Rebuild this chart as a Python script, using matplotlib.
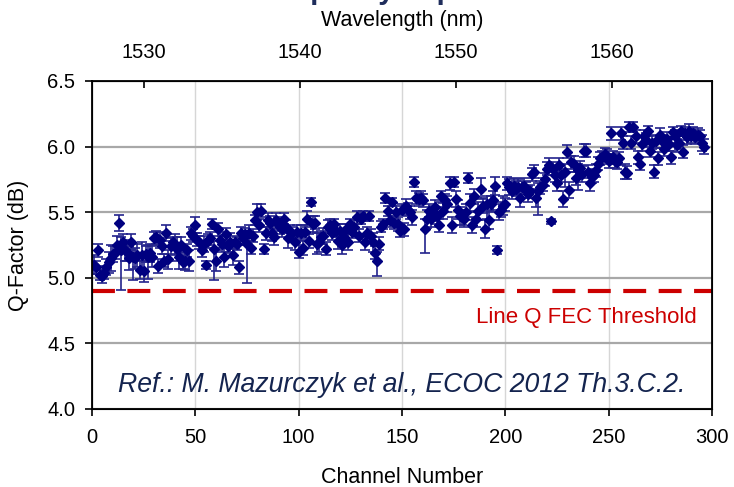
import numpy as np
import matplotlib
matplotlib.use("Agg")
import matplotlib.pyplot as plt

plt.rcParams['font.family'] = ['Liberation Sans', 'DejaVu Sans']

# Q-factor per channel (channels 1..296)
q = [
    5.10, 5.08, 5.21, 5.02, 5.01, 5.04, 5.08, 5.12, 5.15, 5.18,
    5.19, 5.25, 5.42, 5.21, 5.27, 5.21, 5.20, 5.15, 5.27, 5.16,
    5.15, 5.17, 5.06, 5.17, 5.05, 5.18, 5.16, 5.19, 5.16,
    5.30, 5.31, 5.09, 5.29, 5.24, 5.13, 5.34, 5.14, 5.24, 5.27,
    5.25, 5.22, 5.16, 5.25, 5.12, 5.13, 5.21, 5.13, 5.34,
    5.32, 5.40, 5.29, 5.27, 5.21, 5.26, 5.10, 5.28, 5.30, 5.41,
    5.22, 5.13, 5.37, 5.29, 5.26, 5.16, 5.33, 5.24, 5.27, 5.17,
    5.27, 5.26, 5.08, 5.34, 5.30, 5.33, 5.26,
    5.34, 5.23, 5.32, 5.44, 5.50, 5.40, 5.51, 5.22, 5.34, 5.44,
    5.42, 5.34, 5.31, 5.44, 5.41, 5.39, 5.37, 5.45, 5.39,
    5.30, 5.35, 5.34, 5.27, 5.35, 5.20, 5.34, 5.23, 5.35, 5.45,
    5.28, 5.58, 5.41, 5.42, 5.26, 5.27, 5.31, 5.32, 5.22, 5.39,
    5.40, 5.34, 5.41, 5.36, 5.28, 5.36, 5.25, 5.31, 5.37,
    5.27, 5.41, 5.35, 5.39, 5.46, 5.32, 5.45, 5.47, 5.27, 5.34,
    5.47, 5.32, 5.27, 5.19, 5.13, 5.26, 5.39, 5.41, 5.61, 5.51,
    5.44, 5.58, 5.42, 5.50, 5.41, 5.36, 5.52,
    5.37, 5.55, 5.52, 5.50, 5.46, 5.73, 5.61, 5.60, 5.61, 5.59,
    5.37, 5.45, 5.51, 5.45, 5.49, 5.54, 5.47, 5.40, 5.62,
    5.51, 5.59, 5.56, 5.72, 5.40, 5.73, 5.60, 5.52, 5.47, 5.46,
    5.45, 5.50, 5.76, 5.57, 5.40, 5.62, 5.45, 5.51, 5.68, 5.55,
    5.37, 5.56, 5.44, 5.56, 5.59, 5.70, 5.21, 5.50, 5.52, 5.55,
    5.56, 5.72, 5.69, 5.66, 5.70, 5.68, 5.69, 5.61, 5.69, 5.70,
    5.67, 5.64, 5.66, 5.79, 5.81, 5.61, 5.66, 5.69, 5.71, 5.75,
    5.83, 5.86, 5.43, 5.83,
    5.78, 5.72, 5.86, 5.78, 5.60, 5.81, 5.96, 5.67, 5.88, 5.87,
    5.76, 5.82, 5.84, 5.79, 5.97, 5.97, 5.81, 5.72, 5.77, 5.78,
    5.82, 5.87, 5.91, 5.92, 5.94, 5.93, 5.89, 6.10, 5.92, 5.89,
    5.88, 5.91, 6.10, 6.03, 5.81, 5.80, 6.15, 6.03, 6.15,
    6.08, 5.92, 5.87, 6.02, 6.08, 6.05, 6.12, 5.97, 6.03, 5.81,
    6.04, 5.91, 6.09, 6.04, 5.98, 6.06, 6.02, 5.92, 6.11, 6.08,
    6.01, 6.03, 6.12, 5.96, 6.10, 6.07, 6.12, 6.08, 6.10, 6.07,
    6.09, 6.08, 6.03, 6.00,
]

# error bar half-lengths (dB), rough reading
err = [
    0.07, 0.05, 0.05, 0.04, 0.05, 0.05, 0.06, 0.08, 0.10, 0.06,
    0.05, 0.07, 0.06, 0.10, 0.06, 0.08, 0.07, 0.09, 0.06, 0.10,
    0.08, 0.09, 0.07, 0.10, 0.08, 0.06, 0.09, 0.07, 0.08,
    0.05, 0.05, 0.05, 0.06, 0.06, 0.05, 0.06, 0.07, 0.06, 0.04,
    0.08, 0.09, 0.09, 0.06, 0.05, 0.07, 0.05, 0.08, 0.05,
    0.05, 0.06, 0.05, 0.05, 0.05, 0.06, 0.03, 0.05, 0.05, 0.04,
    0.06, 0.08, 0.05, 0.06, 0.06, 0.08, 0.05, 0.05, 0.07, 0.07,
    0.05, 0.05, 0.05, 0.05, 0.05, 0.05, 0.06,
    0.06, 0.05, 0.05, 0.04, 0.06, 0.05, 0.05, 0.04, 0.05, 0.05,
    0.05, 0.06, 0.06, 0.05, 0.05, 0.06, 0.06, 0.04, 0.05,
    0.07, 0.05, 0.05, 0.06, 0.05, 0.05, 0.06, 0.06, 0.05, 0.06,
    0.05, 0.03, 0.06, 0.05, 0.08, 0.07, 0.05, 0.06, 0.05, 0.05,
    0.05, 0.05, 0.04, 0.05, 0.06, 0.05, 0.07, 0.06, 0.04,
    0.06, 0.04, 0.05, 0.05, 0.05, 0.05, 0.04, 0.04, 0.06, 0.05,
    0.04, 0.05, 0.07, 0.05, 0.07, 0.05, 0.04, 0.04, 0.04, 0.04,
    0.05, 0.03, 0.05, 0.05, 0.05, 0.05, 0.04,
    0.05, 0.05, 0.05, 0.05, 0.06, 0.04, 0.05, 0.05, 0.05, 0.05,
    0.08, 0.07, 0.05, 0.06, 0.06, 0.05, 0.06, 0.05, 0.04,
    0.06, 0.05, 0.06, 0.05, 0.06, 0.04, 0.06, 0.07, 0.07, 0.06,
    0.06, 0.06, 0.04, 0.07, 0.06, 0.06, 0.06, 0.07, 0.08, 0.06,
    0.07, 0.06, 0.07, 0.06, 0.07, 0.07, 0.03, 0.06, 0.06, 0.07,
    0.05, 0.05, 0.06, 0.06, 0.06, 0.06, 0.06, 0.07, 0.05, 0.06,
    0.06, 0.06, 0.05, 0.05, 0.05, 0.07, 0.06, 0.05, 0.05, 0.05,
    0.05, 0.05, 0.02, 0.05,
    0.05, 0.06, 0.05, 0.05, 0.06, 0.06, 0.05, 0.06, 0.05, 0.06,
    0.05, 0.05, 0.05, 0.06, 0.05, 0.05, 0.05, 0.06, 0.05, 0.05,
    0.05, 0.05, 0.05, 0.05, 0.05, 0.05, 0.05, 0.05, 0.05, 0.05,
    0.05, 0.05, 0.05, 0.05, 0.06, 0.05, 0.04, 0.05, 0.04,
    0.05, 0.05, 0.05, 0.05, 0.05, 0.05, 0.04, 0.05, 0.05, 0.05,
    0.05, 0.05, 0.05, 0.05, 0.05, 0.05, 0.05, 0.05, 0.04, 0.05,
    0.05, 0.05, 0.04, 0.05, 0.05, 0.05, 0.05, 0.05, 0.05, 0.05,
    0.05, 0.05, 0.06, 0.06,
]

# points with long lower tails: channel -> extra lower error
extra_lo = {14: 0.20, 20: 0.08, 27: 0.08, 59: 0.18, 75: 0.24,
            138: 0.05, 161: 0.10, 191: 0.05, 216: 0.12, 229: 0.06, 235: 0.10}

fec_threshold = 4.9
wl_start, wl_end = 1526.7, 1566.4   # wavelength at channel 0 and 300

channels = np.arange(1, len(q) + 1)
err_lo = np.array(err)
for ch, e in extra_lo.items():
    err_lo[ch - 1] += e
err_hi = np.array(err)

navy = '#000080'

fig = plt.figure(figsize=(7.34, 4.87), dpi=100)
ax = fig.add_axes([0.1253, 0.1602, 0.8447, 0.6735])

ax.errorbar(channels, q, yerr=[err_lo, err_hi], fmt='D', color=navy,
            markersize=5, ecolor='#23238c', elinewidth=1.2,
            capsize=3.5, capthick=1.2, zorder=3)

ax.axhline(fec_threshold, color='#cc0000', lw=3, dashes=(5.5, 3), zorder=2)

ax.set_xlim(0, 300)
ax.set_ylim(4.0, 6.5)
ax.set_xticks(np.arange(0, 301, 50))
ax.set_yticks(np.arange(4.0, 6.51, 0.5))
ax.set_yticklabels(['%.1f' % v for v in np.arange(4.0, 6.51, 0.5)])
ax.tick_params(labelsize=14.5, length=5, width=1.2, direction='out')
ax.tick_params(axis='x', pad=9)
ax.tick_params(axis='y', pad=7)

ax.yaxis.grid(True, color='#a8a8a8', lw=1.6)
ax.xaxis.grid(True, color='#d6d6d6', lw=1.0)
ax.set_axisbelow(True)
for s in ax.spines.values():
    s.set_linewidth(1.3)

ax.set_xlabel('Channel Number', fontsize=15.5, labelpad=14)
ax.set_ylabel('Q-Factor (dB)', fontsize=15.5, labelpad=13)

# wavelength axis on top
ax2 = ax.twiny()
ax2.set_xlim(wl_start, wl_end)
ax2.set_xticks([1530, 1540, 1550, 1560])
ax2.tick_params(labelsize=14.5, length=5, width=1.2, direction='in', pad=14)
ax2.set_xlabel('Wavelength (nm)', fontsize=15.5, labelpad=12)

ax.text(292.7, 4.70, 'Line Q FEC Threshold', color='#cc0000', fontsize=16,
        ha='right', va='center')
ax.text(150, 4.18, 'Ref.: M. Mazurczyk et al., ECOC 2012 Th.3.C.2.',
        color='#14244f', fontsize=19.2, style='italic', ha='center', va='center')

# title mostly cut off at the top of the image
fig.text(273 / 734, 1 + 1 / 487, 'Capacity Improvement', color='#1f2d5c',
         fontsize=21, fontweight='bold', ha='left', va='baseline')

fig.savefig('out.png', dpi=100)
